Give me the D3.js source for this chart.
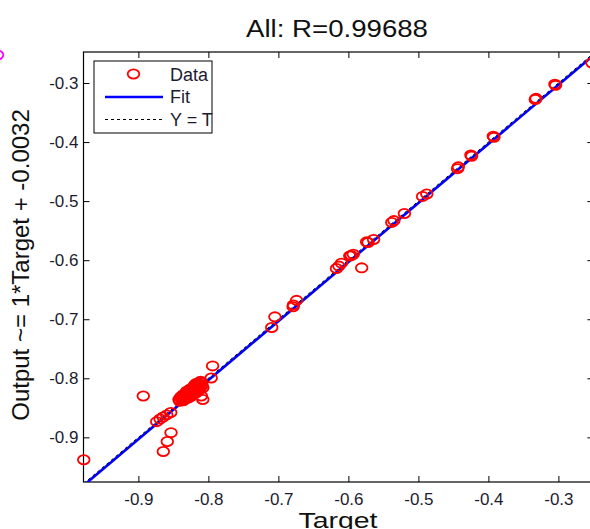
<!DOCTYPE html>
<html>
<head>
<meta charset="utf-8">
<script src="https://cdn.jsdelivr.net/npm/d3@7"></script>
<style>
  body { margin: 0; background: #fff; }
  svg { display: block; font-family: "Liberation Sans", Arial, sans-serif; }
</style>
</head>
<body>
<svg id="chart" width="590" height="529"></svg>
<script>
// targets and network outputs
const targets = [
  -0.978, -0.893,
  -0.8738, -0.869, -0.8648, -0.8595, -0.8538,
  -0.8644, -0.8587, -0.8534,
  -0.842, -0.840, -0.838, -0.837, -0.835, -0.834, -0.832, -0.831, -0.830, -0.829,
  -0.828, -0.827, -0.826, -0.825, -0.824, -0.823, -0.822, -0.821, -0.820, -0.819,
  -0.818, -0.817, -0.816, -0.815, -0.814, -0.813, -0.812, -0.811, -0.810, -0.820,
  -0.826, -0.815, -0.808, -0.810,
  -0.841, -0.839, -0.836, -0.833, -0.833, -0.830, -0.828, -0.826, -0.823, -0.822,
  -0.819, -0.817, -0.816, -0.813, -0.812, -0.809, -0.808, -0.811, -0.836, -0.831,
  -0.827, -0.818,
  -0.794, -0.796,
  -0.7095, -0.705, -0.679, -0.6785, -0.674,
  -0.617, -0.6135, -0.610, -0.598, -0.596, -0.593, -0.581,
  -0.574, -0.572, -0.564, -0.538, -0.535, -0.520,
  -0.494, -0.488, -0.444, -0.443, -0.425, -0.424,
  -0.393, -0.392, -0.333, -0.332, -0.305, -0.304, -0.252
];
const outputs = [
  -0.938, -0.830,
  -0.8734, -0.869, -0.8655, -0.862, -0.858,
  -0.924, -0.907, -0.892,
  -0.836, -0.833, -0.836, -0.830, -0.833, -0.828, -0.831, -0.826, -0.829, -0.833,
  -0.824, -0.828, -0.822, -0.826, -0.830, -0.820, -0.824, -0.818, -0.822, -0.826,
  -0.816, -0.820, -0.814, -0.818, -0.812, -0.816, -0.810, -0.814, -0.808, -0.812,
  -0.818, -0.810, -0.836, -0.830,
  -0.839, -0.831, -0.838, -0.835, -0.826, -0.834, -0.820, -0.831, -0.827, -0.816,
  -0.822, -0.812, -0.823, -0.820, -0.806, -0.812, -0.816, -0.805, -0.828, -0.822,
  -0.832, -0.809,
  -0.779, -0.7994,
  -0.714, -0.696, -0.679, -0.676, -0.668,
  -0.614, -0.610, -0.605, -0.593, -0.592, -0.590, -0.613,
  -0.569, -0.570, -0.565, -0.536, -0.533, -0.521,
  -0.492, -0.488, -0.445, -0.442, -0.422, -0.424,
  -0.390, -0.392, -0.328, -0.326, -0.302, -0.304, -0.266
];
const xTicks = [-0.9, -0.8, -0.7, -0.6, -0.5, -0.4, -0.3];
const yTicks = [-0.9, -0.8, -0.7, -0.6, -0.5, -0.4, -0.3];
const xLimits = [-0.9784, -0.25];
const yLimits = [-0.9756, -0.2475];
const fitSlope = 1;
const fitOffset = -0.0032;
const legendNames = ["Data", "Fit", "Y = T"];

const svg = d3.select("#chart");
const plotL = 83.5, plotR = 593.4, plotT = 52, plotB = 482;

const x = d3.scaleLinear().domain(xLimits).range([plotL, plotR]);
const y = d3.scaleLinear().domain(yLimits).range([plotB, plotT]);
const fmt = d => d.toFixed(1);

svg.append("rect").attr("width", 590).attr("height", 529).attr("fill", "#fff");

// marker of the neighbouring plot, cut by the left edge
svg.append("ellipse")
  .attr("cx", -2.5).attr("cy", 55).attr("rx", 5.8).attr("ry", 4.6)
  .attr("fill", "none").attr("stroke", "#ff00ff").attr("stroke-width", 1.8);

svg.append("clipPath").attr("id", "plotclip")
  .append("rect").attr("x", plotL).attr("y", plotT)
  .attr("width", plotR - plotL).attr("height", plotB - plotT);

// axes
const axB = svg.append("g").attr("transform", `translate(0,${plotB})`)
  .call(d3.axisBottom(x).tickValues(xTicks).tickFormat(fmt).tickSizeInner(-6).tickSizeOuter(0).tickPadding(11));
const axT = svg.append("g").attr("transform", `translate(0,${plotT})`)
  .call(d3.axisTop(x).tickValues(xTicks).tickFormat("").tickSizeInner(-6).tickSizeOuter(0));
const axL = svg.append("g").attr("transform", `translate(${plotL},0)`)
  .call(d3.axisLeft(y).tickValues(yTicks).tickFormat(fmt).tickSizeInner(-6).tickSizeOuter(0).tickPadding(5));
const axR = svg.append("g").attr("transform", `translate(${plotR},0)`)
  .call(d3.axisRight(y).tickValues(yTicks).tickFormat("").tickSizeInner(-6).tickSizeOuter(0));

[axB, axT, axL, axR].forEach(g => {
  g.select(".domain").remove();
  g.selectAll(".tick line").attr("stroke", "#000");
  g.selectAll("text").attr("font-size", 17).attr("fill", "#1c1c30")
    .attr("font-family", "'Liberation Sans', Arial, sans-serif");
});

svg.append("rect")
  .attr("x", plotL).attr("y", plotT).attr("width", plotR - plotL).attr("height", plotB - plotT)
  .attr("fill", "none").attr("stroke", "#000").attr("stroke-width", 1.2);

// fit line and Y = T
const lineG = svg.append("g").attr("clip-path", "url(#plotclip)");
const lineGen = d3.line().x(d => x(d[0])).y(d => y(d[1]));
lineG.append("path")
  .datum(xLimits.map(t => [t, fitSlope * t + fitOffset]))
  .attr("d", lineGen).attr("fill", "none").attr("stroke", "#0000ff").attr("stroke-width", 2.6);
lineG.append("path")
  .datum(xLimits.map(t => [t, t]))
  .attr("d", lineGen).attr("fill", "none").attr("stroke", "#000")
  .attr("stroke-width", 1).attr("stroke-dasharray", "3,3");

// data
svg.append("g").selectAll("ellipse")
  .data(d3.zip(targets, outputs))
  .join("ellipse")
  .attr("cx", d => x(d[0])).attr("cy", d => y(d[1]))
  .attr("rx", 5.8).attr("ry", 4.6)
  .attr("fill", "none").attr("stroke", "#ff0000").attr("stroke-width", 1.8);

// legend
const lg = svg.append("g");
lg.append("rect").attr("x", 94).attr("y", 61).attr("width", 118).attr("height", 72)
  .attr("fill", "#fff").attr("stroke", "#000").attr("stroke-width", 1);
lg.append("ellipse").attr("cx", 133.5).attr("cy", 74).attr("rx", 5.8).attr("ry", 4.6)
  .attr("fill", "none").attr("stroke", "#ff0000").attr("stroke-width", 1.8);
lg.append("line").attr("x1", 105).attr("x2", 163).attr("y1", 97).attr("y2", 97)
  .attr("stroke", "#0000ff").attr("stroke-width", 2.6);
lg.append("line").attr("x1", 105).attr("x2", 163).attr("y1", 119.5).attr("y2", 119.5)
  .attr("stroke", "#000").attr("stroke-width", 1).attr("stroke-dasharray", "3,3");
lg.selectAll("text.lab").data(legendNames).join("text").attr("class", "lab")
  .attr("x", 170).attr("y", (d, i) => 80.5 + i * 22.7)
  .attr("font-size", 18).attr("fill", "#1c1c30").text(d => d);

// titles
svg.append("text").attr("x", 337).attr("y", 37).attr("text-anchor", "middle")
  .attr("font-size", 23).attr("fill", "#111")
  .attr("textLength", 182).attr("lengthAdjust", "spacingAndGlyphs")
  .text("All: R=0.99688");
svg.append("text").attr("x", 338).attr("y", 528).attr("text-anchor", "middle")
  .attr("font-size", 22).attr("fill", "#111")
  .attr("textLength", 79).attr("lengthAdjust", "spacingAndGlyphs")
  .text("Target");
svg.append("text").attr("transform", "translate(29,265) rotate(-90)")
  .attr("text-anchor", "middle").attr("font-size", 24).attr("fill", "#111")
  .text("Output ~= 1*Target + -0.0032");
</script>
</body>
</html>
